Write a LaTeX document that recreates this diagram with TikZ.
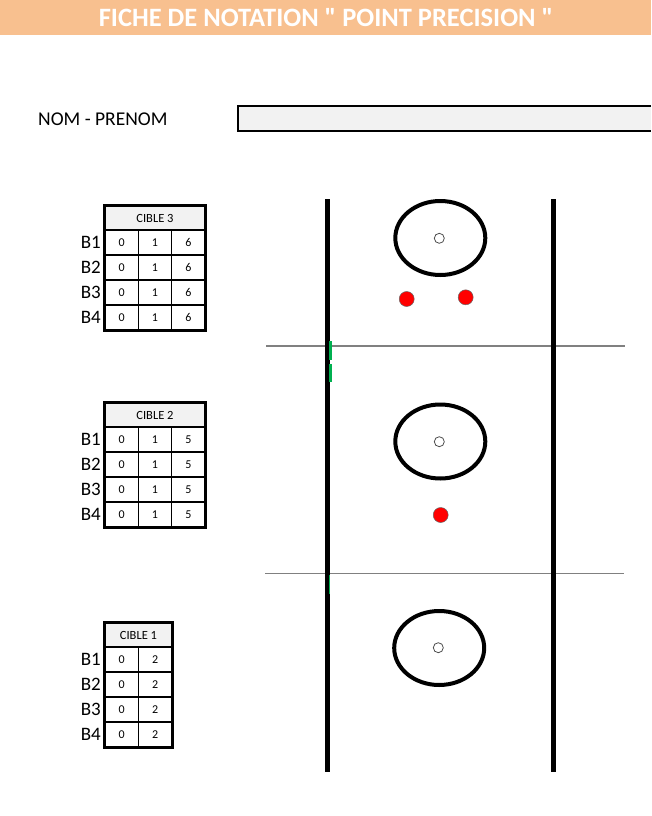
\documentclass[tikz,border=0pt]{standalone}
\usepackage{fontspec}
\setmainfont{Carlito}
\usetikzlibrary{shapes.geometric}

\definecolor{headorange}{HTML}{F8C08F}
\definecolor{fieldgray}{HTML}{F2F2F2}
\definecolor{linegray}{HTML}{808080}
\definecolor{markgreen}{HTML}{00B050}

\tikzset{
    cell/.style={draw,line width=1.5pt,minimum width=33.3pt,minimum height=25pt,inner sep=0pt,font=\fontsize{12}{12}\selectfont},
    headcell/.style={cell,fill=fieldgray,minimum height=24pt,font=\fontsize{12.5}{12.5}\selectfont},
    blabel/.style={anchor=east,inner sep=0pt,font=\fontsize{19}{19}\selectfont},
    ring/.style={ellipse,draw,line width=4pt,minimum width=90pt,minimum height=74pt},
    centre/.style={circle,draw=black!70,fill=white,line width=0.8pt,minimum size=10pt,inner sep=0pt},
    hit/.style={circle,draw=black!60,fill=red,line width=0.5pt,minimum size=15pt,inner sep=0pt},
    touchline/.style={line width=5pt},
    midline/.style={draw=linegray,line width=1.3pt},
}

\begin{document}
\begin{tikzpicture}[x=1pt,y=-1pt]
    \useasboundingbox (0,0) rectangle (651,816);

    % header
    \fill[headorange] (0,0) rectangle (651,35);
    \node[text=white,font=\fontsize{26.5}{26.5}\selectfont\bfseries] (title) at (326,18) {FICHE DE NOTATION \textquotedbl{} POINT PRECISION \textquotedbl};

    \node[anchor=west,inner sep=0pt,font=\fontsize{19.5}{19.5}\selectfont] (nom) at (38,119) {NOM - PRENOM};
    \fill[fieldgray] (238,106) rectangle (651,131);
    \draw[line width=2.5pt] (651,106) -- (238,106) -- (238,131) -- (651,131);

    % cible 3
    \node[headcell,minimum width=100pt] (K3) at (155,218) {CIBLE 3};
    \node[cell] (K3AA) at (121.7,242.5) {0};
    \node[cell] (K3AB) at (155,242.5) {1};
    \node[cell] (K3AC) at (188.3,242.5) {6};
    \node[cell] (K3BA) at (121.7,267.5) {0};
    \node[cell] (K3BB) at (155,267.5) {1};
    \node[cell] (K3BC) at (188.3,267.5) {6};
    \node[cell] (K3CA) at (121.7,292.5) {0};
    \node[cell] (K3CB) at (155,292.5) {1};
    \node[cell] (K3CC) at (188.3,292.5) {6};
    \node[cell] (K3DA) at (121.7,317.5) {0};
    \node[cell] (K3DB) at (155,317.5) {1};
    \node[cell] (K3DC) at (188.3,317.5) {6};
    \draw[line width=2.5pt] (K3.north west) rectangle (K3DC.south east);
    \node[blabel] (B3A) at (101,242.5) {B1};
    \node[blabel] (B3B) at (101,267.5) {B2};
    \node[blabel] (B3C) at (101,292.5) {B3};
    \node[blabel] (B3D) at (101,317.5) {B4};

    % cible 2
    \node[headcell,minimum width=100pt] (K2) at (155,415) {CIBLE 2};
    \node[cell] (K2AA) at (121.7,439.5) {0};
    \node[cell] (K2AB) at (155,439.5) {1};
    \node[cell] (K2AC) at (188.3,439.5) {5};
    \node[cell] (K2BA) at (121.7,464.5) {0};
    \node[cell] (K2BB) at (155,464.5) {1};
    \node[cell] (K2BC) at (188.3,464.5) {5};
    \node[cell] (K2CA) at (121.7,489.5) {0};
    \node[cell] (K2CB) at (155,489.5) {1};
    \node[cell] (K2CC) at (188.3,489.5) {5};
    \node[cell] (K2DA) at (121.7,514.5) {0};
    \node[cell] (K2DB) at (155,514.5) {1};
    \node[cell] (K2DC) at (188.3,514.5) {5};
    \draw[line width=2.5pt] (K2.north west) rectangle (K2DC.south east);
    \node[blabel] (B2A) at (101,439.5) {B1};
    \node[blabel] (B2B) at (101,464.5) {B2};
    \node[blabel] (B2C) at (101,489.5) {B3};
    \node[blabel] (B2D) at (101,514.5) {B4};

    % cible 1
    \node[headcell,minimum width=67pt] (K1) at (138.5,635) {CIBLE 1};
    \node[cell,minimum width=33.5pt] (K1AA) at (121.75,659.5) {0};
    \node[cell,minimum width=33.5pt] (K1AB) at (155.25,659.5) {2};
    \node[cell,minimum width=33.5pt] (K1BA) at (121.75,684.5) {0};
    \node[cell,minimum width=33.5pt] (K1BB) at (155.25,684.5) {2};
    \node[cell,minimum width=33.5pt] (K1CA) at (121.75,709.5) {0};
    \node[cell,minimum width=33.5pt] (K1CB) at (155.25,709.5) {2};
    \node[cell,minimum width=33.5pt] (K1DA) at (121.75,734.5) {0};
    \node[cell,minimum width=33.5pt] (K1DB) at (155.25,734.5) {2};
    \draw[line width=2.5pt] (K1.north west) rectangle (K1DB.south east);
    \node[blabel] (B1A) at (101,659.5) {B1};
    \node[blabel] (B1B) at (101,684.5) {B2};
    \node[blabel] (B1C) at (101,709.5) {B3};
    \node[blabel] (B1D) at (101,734.5) {B4};

    % terrain
    \draw[midline] (266,346) -- (625,346);
    \draw[midline] (265,573.5) -- (624,573.5);
    \draw[touchline] (327,199) -- (327,772);
    \draw[touchline] (553.5,199) -- (553.5,772);
    \draw[markgreen,line width=2.5pt] (330.5,341) -- (330.5,360);
    \draw[markgreen,line width=2.5pt] (330.5,364) -- (330.5,382);
    \draw[markgreen,line width=1.2pt] (329.8,575) -- (329.8,594);

    \node[ring] (ring3) at (440.3,238) {};
    \node[ring] (ring2) at (440.3,441.5) {};
    \node[ring] (ring1) at (439.2,648) {};
    \node[centre] (C3) at (439.3,238.3) {};
    \node[centre] (C2) at (439.3,441.7) {};
    \node[centre] (C1) at (438.3,647.7) {};
    \node[hit] (H3A) at (406.7,299) {};
    \node[hit] (H3B) at (465.7,297.3) {};
    \node[hit] (H2A) at (440.7,515) {};
\end{tikzpicture}
\end{document}
